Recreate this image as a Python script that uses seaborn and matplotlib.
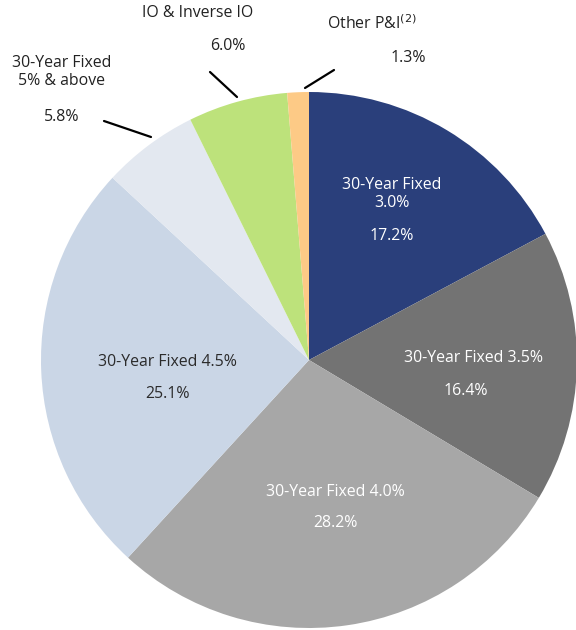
import matplotlib
matplotlib.use("Agg")
import matplotlib.pyplot as plt
import seaborn as sns

sns.set_theme(style="white")
plt.rcParams['font.family'] = ['Open Sans', 'DejaVu Sans']

categories = ["30-Year Fixed 3.0%", "30-Year Fixed 3.5%", "30-Year Fixed 4.0%",
              "30-Year Fixed 4.5%", "30-Year Fixed 5% & above", "IO & Inverse IO", "Other P&I"]
values = [17.2, 16.4, 28.2, 25.1, 5.8, 6.0, 1.3]
value_labels = ["17.2%", "16.4%", "28.2%", "25.1%", "5.8%", "6.0%", "1.3%"]
colors = ["#2a3f7b", "#737373", "#a7a7a7", "#cad6e6", "#e3e8f0", "#bde27b", "#fdca86"]

W, H = 576, 630
CX, CY, R = 309, 360, 268
fig = plt.figure(figsize=(W / 100, H / 100), dpi=100)
ax = fig.add_axes([(CX - R) / W, (H - CY - R) / H, 2 * R / W, 2 * R / H])
ax.pie(values, colors=colors, startangle=90, counterclock=False, radius=1,
       wedgeprops=dict(linewidth=0))
ax.set_xlim(-1, 1)
ax.set_ylim(-1, 1)
ax.set_aspect('equal')
ax.axis('off')


def d(px, py):
    return ((px - CX) / R, (CY - py) / R)


fs = 11.4


def txt(px, py, s, color="#222222"):
    x, y = d(px, py)
    ax.text(x, y, s, ha="center", va="center", fontsize=fs, color=color,
            clip_on=False, linespacing=1.1)


# inside labels
txt(392, 194, "30-Year Fixed\n3.0%", "white")
txt(392, 236, value_labels[0], "white")
txt(473, 358, "30-Year Fixed 3.5%", "white")
txt(466, 391, value_labels[1], "white")
txt(335, 492, "30-Year Fixed 4.0%", "white")
txt(335, 523, value_labels[2], "white")
txt(167, 362, "30-Year Fixed 4.5%", "#2b2b2b")
txt(167, 394, value_labels[3], "#2b2b2b")

# outside labels
txt(62, 72, "30-Year Fixed\n5% & above")
txt(62, 117, value_labels[4])
txt(198, 13, "IO & Inverse IO")
txt(228, 46, value_labels[5])
txt(372, 24, "Other P&I$^{(2)}$")
txt(408, 58, value_labels[6])


def line(p0, p1):
    x0, y0 = d(*p0)
    x1, y1 = d(*p1)
    ax.plot([x0, x1], [y0, y1], color="black", lw=1.6, clip_on=False)


line((104, 121), (151, 137))
line((210, 72), (237, 97))
line((334, 70), (305, 88))

fig.savefig("out.png", dpi=100)
